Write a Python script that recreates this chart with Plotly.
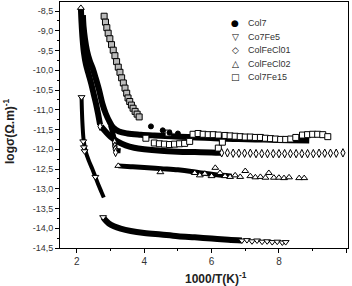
import plotly.graph_objects as go

# ---------------- data ----------------
series_names = ["Col7", "Co7Fe5", "ColFeCl01", "ColFeCl02", "Col7Fe15"]
legend_glyphs = ["●", "▽", "◇", "△", "□"]

x_tickvals = [2, 4, 6, 8, 10]
x_ticktext = ["2", "4", "6", "8", "10"]
y_tickvals = [-14.5, -14.0, -13.5, -13.0, -12.5, -12.0, -11.5, -11.0, -10.5, -10.0, -9.5, -9.0, -8.5]
y_ticktext = ["-14,5", "-14,0", "-13,5", "-13,0", "-12,5", "-12,0", "-11,5", "-11,0", "-10,5", "-10,0", "-9,5", "-9,0", "-8,5"]

# Col7 (filled circles) - dense curve and isolated points
col7_band_x = [2.18, 2.2, 2.24, 2.3, 2.38, 2.47, 2.56, 2.66, 2.76, 2.86, 2.97, 3.08, 3.25, 3.5, 3.9,
               4.3, 4.8, 5.3, 5.8, 6.3, 6.8, 7.3, 7.8, 8.3, 8.9]
col7_band_y = [-8.6, -8.9, -9.2, -9.5, -9.75, -9.95, -10.2, -10.5, -10.85, -11.1, -11.3, -11.45, -11.55, -11.6, -11.63,
               -11.65, -11.67, -11.69, -11.71, -11.73, -11.74, -11.75, -11.76, -11.77, -11.78]
col7_pts_x = [4.2, 4.55, 4.75, 5.0]
col7_pts_y = [-11.42, -11.52, -11.58, -11.6]

# Co7Fe5 (down triangles)
co7fe5_hi_x = [2.14, 2.15, 2.17, 2.2, 2.26, 2.36, 2.46, 2.55, 2.64, 2.73, 2.8]
co7fe5_hi_y = [-10.68, -11.0, -11.4, -11.75, -12.05, -12.3, -12.5, -12.7, -12.9, -13.08, -13.22]
co7fe5_lo_x = [2.78, 2.85, 2.95, 3.1, 3.3, 3.6, 4.0, 4.5, 5.0, 5.5, 6.0, 6.5, 6.9]
co7fe5_lo_y = [-13.72, -13.8, -13.88, -13.95, -14.01, -14.07, -14.12, -14.16, -14.2, -14.23, -14.26, -14.29, -14.31]
co7fe5_pts_x = [2.14, 2.19, 2.21, 2.23, 2.55, 2.78, 6.9, 7.05, 7.2, 7.35, 7.5, 7.65, 7.8, 7.95, 8.1, 8.2]
co7fe5_pts_y = [-10.68, -11.8, -11.95, -12.05, -12.7, -13.72, -14.31, -14.3, -14.33, -14.31, -14.34, -14.33, -14.35, -14.34, -14.36, -14.35]

# ColFeCl01 (diamonds)
colfecl01_band_x = [2.72, 2.85, 3.0, 3.2, 3.45, 3.7, 4.0, 4.5, 5.0, 5.5, 6.0, 6.3]
colfecl01_band_y = [-11.42, -11.55, -11.68, -11.8, -11.9, -11.96, -12.0, -12.04, -12.06, -12.07, -12.08, -12.09]
colfecl01_drop_x = [3.0, 3.07, 3.12, 3.15, 3.3]
colfecl01_drop_y = [-11.4, -11.6, -11.8, -12.0, -12.04]
colfecl01_pts_x = [2.69, 3.12, 3.13, 3.14, 3.15, 6.3, 6.47, 6.64, 6.81, 6.98, 7.15, 7.32, 7.49, 7.66, 7.83, 8.0,
                   8.17, 8.34, 8.51, 8.68, 8.85, 9.02, 9.19, 9.36, 9.53, 9.7, 9.9]
colfecl01_pts_y = [-11.42, -11.82, -11.92, -12.0, -12.08, -12.09, -12.09, -12.1, -12.1, -12.1, -12.1, -12.11, -12.11,
                   -12.11, -12.11, -12.11, -12.11, -12.11, -12.11, -12.11, -12.11, -12.11, -12.1, -12.1, -12.1, -12.1, -12.09]

# ColFeCl02 (up triangles)
colfecl02_hi_x = [2.12, 2.14, 2.17, 2.21, 2.27, 2.35, 2.43, 2.5, 2.57, 2.63, 2.69]
colfecl02_hi_y = [-8.42, -8.8, -9.2, -9.55, -9.85, -10.1, -10.35, -10.6, -10.85, -11.1, -11.38]
colfecl02_lo_x = [3.23, 3.6, 4.0, 4.5, 5.0, 5.4, 5.7, 6.0, 6.3, 6.6]
colfecl02_lo_y = [-12.42, -12.44, -12.46, -12.49, -12.52, -12.56, -12.6, -12.63, -12.66, -12.68]
colfecl02_pts_x = [2.12, 3.23, 4.48, 5.5, 5.65, 5.8, 6.0, 6.11, 6.25, 6.4, 6.55, 6.7, 6.85, 7.0, 7.15, 7.3,
                   7.45, 7.6, 7.7, 7.85, 8.0, 8.15, 8.3, 8.6, 8.75]
colfecl02_pts_y = [-8.42, -12.42, -12.58, -12.6, -12.66, -12.62, -12.68, -12.47, -12.6, -12.68, -12.7, -12.66, -12.7,
                   -12.55, -12.68, -12.71, -12.7, -12.72, -12.6, -12.72, -12.72, -12.73, -12.71, -12.73, -12.73]

# Col7Fe15 (squares): first 22 points form the steep high-temperature branch
col7fe15_x = [2.81, 2.85, 2.89, 2.93, 2.98, 3.03, 3.08, 3.13, 3.18, 3.23, 3.28, 3.33, 3.38, 3.43, 3.48, 3.52,
              3.57, 3.62, 3.67, 3.73, 3.79, 3.85,
              4.05, 4.3, 4.45, 4.6, 4.71, 4.75, 4.9, 5.05, 5.2, 5.35, 5.45, 5.6, 5.75, 5.9, 6.05, 6.2, 6.2, 6.32,
              6.4, 6.55, 6.7, 6.85, 7.0, 7.15, 7.3, 7.45, 7.6, 7.75, 7.9, 8.05, 8.2, 8.35, 8.5, 8.7, 8.85, 9.0,
              9.15, 9.3, 9.45]
col7fe15_y = [-8.63, -8.78, -8.92, -9.06, -9.2, -9.35, -9.49, -9.63, -9.78, -9.92, -10.05, -10.19, -10.32, -10.45,
              -10.58, -10.7, -10.79, -10.88, -10.96, -11.04, -11.11, -11.18,
              -11.72, -11.84, -11.86, -11.87, -11.59, -11.88, -11.87, -11.86, -11.85, -11.8, -11.62, -11.6, -11.62,
              -11.63, -11.63, -11.64, -11.97, -11.82, -11.65, -11.66, -11.67, -11.68, -11.69, -11.69, -11.7, -11.7,
              -11.72, -11.73, -11.74, -11.75, -11.75, -11.74, -11.7, -11.64, -11.63, -11.62, -11.62, -11.63, -11.68]
col7fe15_steep_n = 22

# ---------------- figure ----------------
fig = go.Figure()


def band(x, y, w, color="black"):
    fig.add_trace(go.Scatter(x=x, y=y, mode="lines", showlegend=False, hoverinfo="skip",
                             line=dict(color=color, width=w, shape="spline")))


def pts(x, y, symbol, size, fill="white"):
    fig.add_trace(go.Scatter(x=x, y=y, mode="markers", showlegend=False,
                             marker=dict(symbol=symbol, size=size, color=fill,
                                         line=dict(color="black", width=1))))


band(col7_band_x, col7_band_y, 6)
band(colfecl02_hi_x, colfecl02_hi_y, 6)
band(co7fe5_hi_x, co7fe5_hi_y, 4)
band(co7fe5_lo_x, co7fe5_lo_y, 6)
band(colfecl01_band_x, colfecl01_band_y, 6)
band(colfecl01_drop_x, colfecl01_drop_y, 5)
band(colfecl02_lo_x, colfecl02_lo_y, 5)

pts(col7fe15_x[:col7fe15_steep_n], col7fe15_y[:col7fe15_steep_n], "square", 6, fill="#bbbbbb")
pts(col7fe15_x[col7fe15_steep_n:], col7fe15_y[col7fe15_steep_n:], "square", 6)
pts(co7fe5_pts_x, co7fe5_pts_y, "triangle-down", 6)
pts(colfecl01_pts_x, colfecl01_pts_y, "diamond-tall", 6)
pts(colfecl02_pts_x, colfecl02_pts_y, "triangle-up", 6)
pts(col7_pts_x, col7_pts_y, "circle", 5, fill="black")

# plot area in pixels: x 60..348, y 2..248
L, R, T, B = 60, 348, 2, 248


def px_x(p):
    return (p - L) / (R - L)


def px_y(p):
    return (B - p) / (B - T)


annotations = []
for i, (nm, gl) in enumerate(zip(series_names, legend_glyphs)):
    yy = 23 + i * 13.6
    annotations.append(dict(x=px_x(235), y=px_y(yy), xref="paper", yref="paper", text=gl, showarrow=False,
                            xanchor="center", yanchor="middle",
                            font=dict(family="DejaVu Sans", size=9, color="black")))
    annotations.append(dict(x=px_x(246), y=px_y(yy), xref="paper", yref="paper", text=nm, showarrow=False,
                            xanchor="left", yanchor="middle",
                            font=dict(family="Liberation Sans, Arial", size=9, color="#333")))

annotations.append(dict(x=px_x(216), y=px_y(278), xref="paper", yref="paper",
                        text="<b>1000/T(K)<sup>-1</sup></b>", showarrow=False,
                        xanchor="center", yanchor="middle",
                        font=dict(family="Liberation Sans, Arial", size=12, color="#222")))
annotations.append(dict(x=px_x(9), y=px_y(131), xref="paper", yref="paper",
                        text="<b>logσ(Ω.m)<sup>-1</sup></b>", showarrow=False, textangle=-90,
                        xanchor="center", yanchor="middle",
                        font=dict(family="Liberation Sans, Arial", size=12, color="#222")))

fig.update_layout(
    width=352, height=286,
    margin=dict(l=L, r=352 - R, t=T, b=286 - B),
    plot_bgcolor="white", paper_bgcolor="white",
    showlegend=False,
    font=dict(family="Liberation Sans, Arial", size=9, color="#333"),
    annotations=annotations,
)
fig.update_xaxes(range=[1.5, 10.05], tickvals=x_tickvals, ticktext=x_ticktext,
                 ticks="outside", ticklen=4, tickcolor="black", showgrid=False, zeroline=False,
                 showline=True, linecolor="black", linewidth=1, mirror=True,
                 minor=dict(dtick=1, tick0=1, ticks="outside", ticklen=2, tickcolor="black"),
                 tickfont=dict(size=10))
fig.update_yaxes(range=[-14.5, -8.27], tickvals=y_tickvals, ticktext=y_ticktext,
                 ticks="outside", ticklen=4, tickcolor="black", showgrid=False, zeroline=False,
                 showline=True, linecolor="black", linewidth=1, mirror=True,
                 minor=dict(dtick=0.25, tick0=-14.5, ticks="outside", ticklen=2, tickcolor="black"),
                 tickfont=dict(size=9))

fig.write_html("out.html")
